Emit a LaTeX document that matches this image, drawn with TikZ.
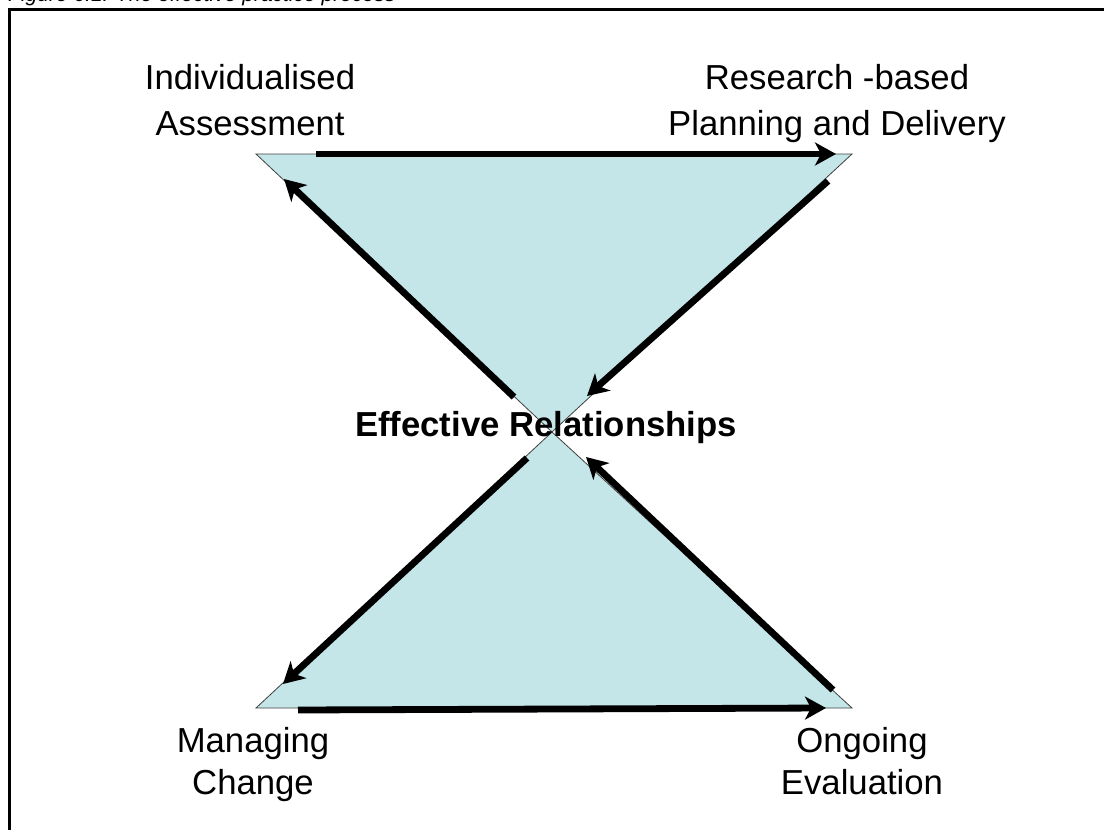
\documentclass[tikz,border=0pt]{standalone}
\usepackage{fontspec}
\setmainfont{Liberation Sans}
\usetikzlibrary{arrows.meta}
\definecolor{tri}{RGB}{196,230,232}
\begin{document}
\begin{tikzpicture}[x=1pt,y=-1pt,
  lab/.style={font=\fontsize{34.7}{46}\selectfont, align=center, inner sep=0pt, anchor=north},
  labb/.style={font=\fontsize{34.7}{42}\selectfont, align=center, inner sep=0pt, anchor=north},
  flow/.style={line width=6.8pt, -{Stealth[length=21pt,width=23pt,inset=6pt]}},
  triedge/.style={draw=black!75, line width=0.8pt}]
\useasboundingbox (0,0) rectangle (1104,830);
\clip (0,0) rectangle (1104,830);
% caption (cut off at the top)
\node[font=\itshape\fontsize{21}{25}\selectfont, anchor=base west, inner sep=0pt] (cap) at (8,1.5) {Figure 6.1: The effective practice process};
% frame
\draw[line width=2.5pt] (1110,9.5) -- (9.5,9.5) -- (9.5,840);
% vertices
\coordinate (TL) at (256,154);
\coordinate (TR) at (852,154);
\coordinate (C)  at (552,432);
\coordinate (BL) at (256,708);
\coordinate (BR) at (852,708);
\filldraw[fill=tri, triedge] (TL) -- (TR) -- (C) -- cycle;
\filldraw[fill=tri, triedge] (C) -- (BR) -- (BL) -- cycle;
% arrow end points
\coordinate (a1s) at (316,154);
\coordinate (a1e) at (836,154);
\coordinate (a2s) at (828,181);
\coordinate (a2e) at (587,396);
\coordinate (a3s) at (527,458);
\coordinate (a3e) at (283,684);
\coordinate (a4s) at (298,710);
\coordinate (a4e) at (826,708);
\coordinate (a5s) at (833,690);
\coordinate (a5e) at (586,457);
\coordinate (a6s) at (514,397);
\coordinate (a6e) at (284,179);
\draw[flow] (a1s) -- (a1e);
\draw[flow] (a2s) -- (a2e);
\draw[flow] (a3s) -- (a3e);
\draw[flow] (a4s) -- (a4e);
\draw[flow] (a5s) -- (a5e);
\draw[flow] (a6s) -- (a6e);
% labels
\node[lab] (ia) at (250,62) {\rule{0pt}{27pt}Individualised\\Assessment};
\node[lab] (rp) at (837,62) {\rule{0pt}{27pt}Research -based\\Planning and Delivery};
\node[labb] (mc) at (253,725) {\rule{0pt}{27pt}Managing\\Change};
\node[labb] (oe) at (862,725) {\rule{0pt}{27pt}Ongoing\\Evaluation};
\node[font=\bfseries\fontsize{34.7}{42}\selectfont, anchor=base, inner sep=0pt] (er) at (546,436) {Effective Relationships};
\end{tikzpicture}
\end{document}
